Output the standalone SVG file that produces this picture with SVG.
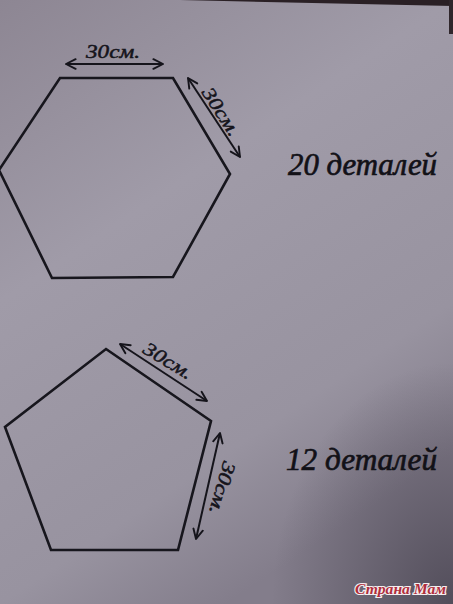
<svg xmlns="http://www.w3.org/2000/svg" width="453" height="604" viewBox="0 0 453 604">
  <defs>
    <linearGradient id="bg" x1="0" y1="0" x2="0.5" y2="1">
      <stop offset="0" stop-color="#8d8693"/>
      <stop offset="0.4" stop-color="#a09ba8"/>
      <stop offset="0.8" stop-color="#9893a0"/>
      <stop offset="1" stop-color="#837d8b"/>
    </linearGradient>
    <radialGradient id="shade" cx="1" cy="1" r="0.4">
      <stop offset="0" stop-color="#4a4552" stop-opacity="0.85"/>
      <stop offset="1" stop-color="#4a4552" stop-opacity="0"/>
    </radialGradient>
    <marker id="ah" viewBox="0 0 10 10" refX="9" refY="5" markerWidth="6" markerHeight="6" orient="auto-start-reverse" markerUnits="strokeWidth">
      <path d="M1,1 L9,5 L1,9" fill="none" stroke="#15141b" stroke-width="1.6" stroke-linejoin="round" stroke-linecap="round"/>
    </marker>
    <style>
      .shape { fill: none; stroke: #17161d; stroke-width: 2.6; stroke-linejoin: miter; }
      .dim { stroke: #15141b; stroke-width: 2; fill: none; marker-start: url(#ah); marker-end: url(#ah); }
      .lbl { font-family: "Liberation Serif", "DejaVu Serif", serif; font-style: italic; font-size: 19px; fill: #15141b; stroke: #15141b; stroke-width: 0.5; text-anchor: middle; }
      .cap { font-family: "Liberation Serif", "DejaVu Serif", serif; font-style: italic; font-size: 32px; fill: #121117; stroke: #121117; stroke-width: 0.7; }
      .wm { font-family: "Liberation Serif", "DejaVu Serif", serif; font-style: italic; font-weight: bold; font-size: 14px; fill: #b02e3c; stroke: #f4eef0; stroke-width: 2.2; paint-order: stroke; }
    </style>
  </defs>

  <rect x="0" y="0" width="453" height="604" fill="url(#bg)"/>
  <rect x="0" y="0" width="453" height="604" fill="url(#shade)"/>
  <polygon points="180,0 453,0 453,6" fill="#2a2025"/>
  <rect x="449" y="0" width="4" height="34" fill="#2f262b"/>

  <g id="hexagon">
    <polygon class="shape" points="60,78 173,78 230,174 173,277 52,278 -1,170"/>
  </g>

  <g id="pentagon">
    <polygon class="shape" points="106,349 211,421 178,550 51,550 5,427"/>
  </g>

  <g id="connectors">
    <line class="dim" x1="66" y1="64" x2="163" y2="64"/>
    <line class="dim" x1="188" y1="78" x2="240" y2="157"/>
    <line class="dim" x1="120" y1="344" x2="207" y2="401"/>
    <line class="dim" x1="220" y1="433" x2="196" y2="539"/>
  </g>

  <g id="hex-labels">
    <text class="lbl" x="113" y="58" textLength="54" lengthAdjust="spacingAndGlyphs">30см.</text>
    <text class="lbl" transform="translate(221,112) rotate(57)" x="0" y="6" textLength="54" lengthAdjust="spacingAndGlyphs">30см.</text>
  </g>

  <g id="pent-labels">
    <text class="lbl" transform="translate(168,361) rotate(31)" x="0" y="6" textLength="54" lengthAdjust="spacingAndGlyphs">30см.</text>
    <text class="lbl" transform="translate(222,488) rotate(106)" x="0" y="6" textLength="54" lengthAdjust="spacingAndGlyphs">30см.</text>
  </g>

  <g id="caption-20">
    <text class="cap" x="288" y="175" textLength="149" lengthAdjust="spacingAndGlyphs">20 деталей</text>
  </g>

  <g id="caption-12">
    <text class="cap" x="286" y="470" textLength="151" lengthAdjust="spacingAndGlyphs">12 деталей</text>
  </g>

  <g id="watermark">
    <text class="wm" x="355" y="594" textLength="91" lengthAdjust="spacingAndGlyphs">Страна Мам</text>
  </g>
</svg>
